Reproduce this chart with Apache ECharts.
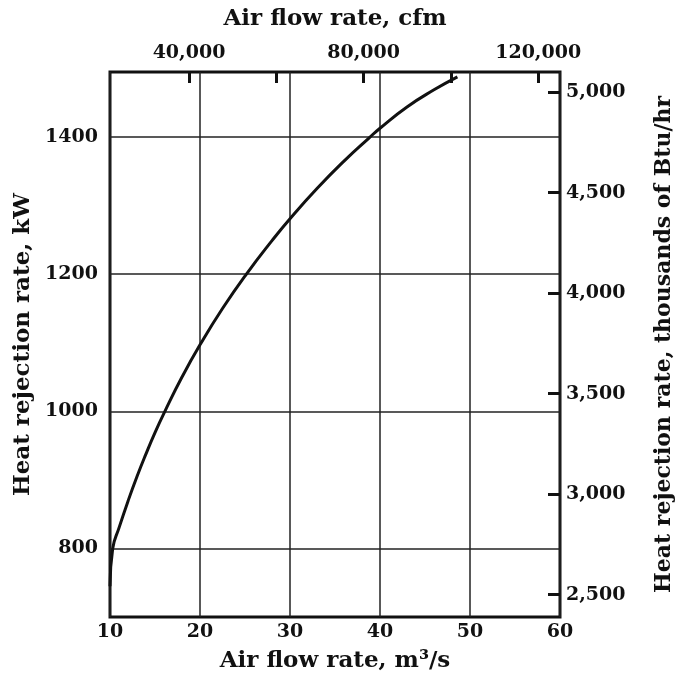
<!DOCTYPE html>
<html>
<head>
<meta charset="utf-8">
<script src="https://cdn.jsdelivr.net/npm/echarts@6/dist/echarts.min.js"></script>
<style>html,body{margin:0;padding:0;background:#fff;}#c{width:683px;height:678px;}</style>
</head>
<body>
<div id="c"></div>
<script>
// Air flow rate (m^3/s) and heat rejection rate (kW)
const flowM3s = [10.0, 10.3, 11, 12, 13, 14, 15, 16.1, 18, 20, 22.5, 25.2, 28, 30, 33, 36, 38.8, 40, 43, 46, 48.6];
const heatKW  = [745, 800, 830, 869, 905, 938, 969, 1000, 1050, 1097, 1150, 1201, 1249, 1281, 1325, 1365, 1399, 1413, 1444, 1469, 1488];

const bottomTicks = [10, 20, 30, 40, 50, 60];
const leftTicks = [800, 1000, 1200, 1400];
const topLabelValues = [40000, 80000, 120000];
const topTickValues = [40000, 60000, 80000, 100000, 120000];
const rightTickValues = [2500, 3000, 3500, 4000, 4500, 5000];

// secondary scales as printed on the chart
const TOP_MIN = 21900, TOP_MAX = 125000;          // cfm at left / right edge
const KBTU_PER_KW = 3.412;
const X_MIN = 10, X_MAX = 60, Y_MIN = 700, Y_MAX = 1495;

const FONT = 'DejaVu Serif';
const TICK_FS = 19, TITLE_FS = 23;
const fmt = v => v.toLocaleString('en-US');

const chart = echarts.init(document.getElementById('c'), null, {renderer: 'canvas'});
chart.setOption({
  animation: false,
  backgroundColor: '#fff',
  grid: {left: 110, right: 123, top: 72, bottom: 61, show: true, borderColor: '#111', borderWidth: 3, containLabel: false},
  xAxis: [
    {
      type: 'value', position: 'bottom', min: X_MIN, max: X_MAX, interval: 10,
      name: 'Air flow rate, m³/s', nameLocation: 'middle', nameGap: 33,
      nameTextStyle: {fontFamily: FONT, fontSize: TITLE_FS, fontWeight: 'bold', color: '#111'},
      axisLine: {show: false}, axisTick: {show: false},
      axisLabel: {fontFamily: FONT, fontSize: TICK_FS, fontWeight: 'bold', color: '#111', margin: 6},
      splitLine: {show: true, lineStyle: {color: '#222', width: 1.5}}
    },
    {
      type: 'value', position: 'top', min: TOP_MIN, max: TOP_MAX,
      name: 'Air flow rate, cfm', nameLocation: 'middle', nameGap: 41,
      nameTextStyle: {fontFamily: FONT, fontSize: TITLE_FS, fontWeight: 'bold', color: '#111'},
      axisLine: {show: false},
      axisTick: {show: true, inside: true, length: 11, customValues: topTickValues, lineStyle: {color: '#111', width: 3}},
      axisLabel: {customValues: topLabelValues, formatter: v => fmt(v), fontFamily: FONT, fontSize: TICK_FS, fontWeight: 'bold', color: '#111', margin: 9},
      splitLine: {show: false}
    }
  ],
  yAxis: [
    {
      type: 'value', position: 'left', min: Y_MIN, max: Y_MAX,
      name: 'Heat rejection rate, kW', nameLocation: 'middle', nameGap: 73, nameRotate: 90,
      nameTextStyle: {fontFamily: FONT, fontSize: TITLE_FS, fontWeight: 'bold', color: '#111'},
      axisLine: {show: false},
      axisTick: {show: false, customValues: leftTicks},
      axisLabel: {customValues: leftTicks, formatter: v => String(v), fontFamily: FONT, fontSize: TICK_FS, fontWeight: 'bold', color: '#111', margin: 12},
      splitLine: {show: true, lineStyle: {color: '#222', width: 1.5}}
    },
    {
      type: 'value', position: 'right', min: Y_MIN * KBTU_PER_KW, max: Y_MAX * KBTU_PER_KW,
      name: 'Heat rejection rate, thousands of Btu/hr', nameLocation: 'middle', nameGap: 93, nameRotate: 90,
      nameTextStyle: {fontFamily: FONT, fontSize: 22, fontWeight: 'bold', color: '#111'},
      axisLine: {show: false},
      axisTick: {show: true, inside: true, length: 12, customValues: rightTickValues, lineStyle: {color: '#111', width: 3}},
      axisLabel: {customValues: rightTickValues, formatter: v => fmt(v), fontFamily: FONT, fontSize: TICK_FS, fontWeight: 'bold', color: '#111', margin: 6},
      splitLine: {show: false}
    }
  ],
  series: [{
    type: 'line', xAxisIndex: 0, yAxisIndex: 0, smooth: true, symbol: 'none',
    lineStyle: {color: '#111', width: 3},
    data: flowM3s.map((x, i) => [x, heatKW[i]])
  }]
});
</script>
</body>
</html>
